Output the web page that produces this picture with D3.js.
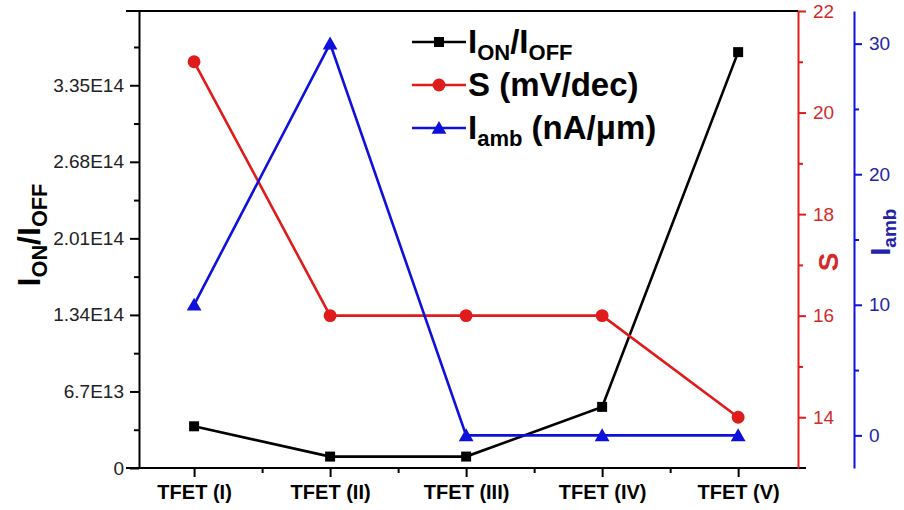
<!DOCTYPE html>
<html>
<head>
<meta charset="utf-8">
<script src="https://cdn.jsdelivr.net/npm/d3@7"></script>
<style>
  html, body { margin: 0; padding: 0; background: #fff; }
  svg { display: block; font-family: "Liberation Sans", Arial, sans-serif; }
</style>
</head>
<body>
<svg id="chart" width="904" height="510"></svg>
<script>
// Device variants along the x axis
const categories = ["TFET (I)", "TFET (II)", "TFET (III)", "TFET (IV)", "TFET (V)"];

// ION/IOFF ratio (left axis)
const ionIoff = [3.65e13, 1.0e13, 1.0e13, 5.35e13, 3.64e14];
// Subthreshold swing S in mV/dec (red axis)
const swing = [21, 16, 16, 16, 14];
// Ambipolar current in nA/um (blue axis)
const iamb = [10, 30, 0, 0, 0];

// Tick values and their printed labels
const ratioTicks = [0, 6.7e13, 1.34e14, 2.01e14, 2.68e14, 3.35e14];
const ratioTickLabels = ["0", "6.7E13", "1.34E14", "2.01E14", "2.68E14", "3.35E14"];
const ratioMinor = [3.35e13, 1.005e14, 1.675e14, 2.345e14, 3.015e14, 3.685e14];
const swingTicks = [14, 16, 18, 20, 22];
const swingMinor = [15, 17, 19, 21];
const iambTicks = [0, 10, 20, 30];
const iambMinor = [5, 15, 25];

const BLACK = "#000";
const RED = "#e01b1b";
const RED_TEXT = "#d42a2a";
const BLUE = "#1010dd";
const BLUE_TEXT = "#2323a8";
const FONT = '"Liberation Sans", Arial, sans-serif';
const TICK_FONT = 19;

const svg = d3.select("#chart");

const plotLeft = 139, plotRight = 798, plotTop = 11, plotBottom = 468;
const blueAxisX = 854;

const x = d3.scaleLinear().domain([0.595, 5.44]).range([plotLeft, plotRight]);
const yRatio = d3.scaleLinear().domain([0, 4.0e14]).range([plotBottom, plotTop]);
const yS = d3.scaleLinear().domain([13, 22]).range([plotBottom, plotTop]);
const yI = d3.scaleLinear().domain([-2.5, 32.5]).range([plotBottom, plotTop]);

function styleAxis(g, color, textColor, fontSize) {
  g.attr("font-size", fontSize).attr("font-family", FONT);
  g.selectAll(".domain").attr("stroke", color).attr("stroke-width", 2);
  g.selectAll(".tick line").attr("stroke", color).attr("stroke-width", 2);
  g.selectAll(".tick text").attr("fill", textColor)
    .attr("font-size", fontSize).attr("font-family", FONT);
}

function styleMinor(g, color) {
  g.select(".domain").remove();
  g.selectAll("text").remove();
  g.selectAll("line").attr("stroke", color).attr("stroke-width", 2);
}

// Top frame line
svg.append("line").attr("x1", 126).attr("x2", plotRight).attr("y1", plotTop).attr("y2", plotTop)
  .attr("stroke", BLACK).attr("stroke-width", 2);

// Bottom (category) axis
const xAxis = svg.append("g").attr("transform", `translate(0,${plotBottom})`)
  .call(d3.axisBottom(x)
    .tickValues(d3.range(1, categories.length + 1))
    .tickFormat(d => categories[d - 1])
    .tickSize(9).tickSizeOuter(0).tickPadding(8));
styleAxis(xAxis, BLACK, BLACK, 20);
xAxis.select(".domain").remove();
xAxis.selectAll(".tick text").attr("font-weight", "bold");
svg.append("line").attr("x1", 126).attr("x2", 806).attr("y1", plotBottom).attr("y2", plotBottom)
  .attr("stroke", BLACK).attr("stroke-width", 2);
svg.append("g").attr("transform", `translate(0,${plotBottom})`)
  .call(d3.axisBottom(x).tickValues(d3.range(1.5, categories.length, 1)).tickSize(5).tickSizeOuter(0).tickFormat(""))
  .call(g => styleMinor(g, BLACK));

// Left axis: ION/IOFF
const yLeft = svg.append("g").attr("transform", `translate(${plotLeft},0)`)
  .call(d3.axisLeft(yRatio).tickValues(ratioTicks)
    .tickFormat((d, i) => ratioTickLabels[i]).tickSize(9).tickSizeOuter(0).tickPadding(6));
styleAxis(yLeft, BLACK, "#222", TICK_FONT);
svg.append("g").attr("transform", `translate(${plotLeft},0)`)
  .call(d3.axisLeft(yRatio).tickValues(ratioMinor).tickSize(5).tickFormat(""))
  .call(g => styleMinor(g, BLACK));

// Red axis: S
const yRight = svg.append("g").attr("transform", `translate(${plotRight},0)`)
  .call(d3.axisRight(yS).tickValues(swingTicks).tickSize(8).tickSizeOuter(0).tickPadding(7));
styleAxis(yRight, RED, RED_TEXT, TICK_FONT);
svg.append("g").attr("transform", `translate(${plotRight},0)`)
  .call(d3.axisRight(yS).tickValues(swingMinor).tickSize(5).tickFormat(""))
  .call(g => styleMinor(g, RED));

// Blue axis: Iamb
const yBlue = svg.append("g").attr("transform", `translate(${blueAxisX},0)`)
  .call(d3.axisRight(yI).tickValues(iambTicks).tickSize(8).tickSizeOuter(0).tickPadding(7));
styleAxis(yBlue, BLUE, BLUE_TEXT, TICK_FONT);
svg.append("g").attr("transform", `translate(${blueAxisX},0)`)
  .call(d3.axisRight(yI).tickValues(iambMinor).tickSize(5).tickFormat(""))
  .call(g => styleMinor(g, BLUE));

// Axis titles with subscripts
function subTitle(parent, parts, size, color) {
  const t = parent.append("text").attr("fill", color).attr("font-weight", "bold")
    .attr("font-family", FONT).attr("text-anchor", "middle").attr("font-size", size);
  parts.forEach(p => {
    const s = t.append("tspan").text(p.text);
    if (p.sub) s.attr("font-size", size * 0.68).attr("dy", size * 0.22);
    else if (p.afterSub) s.attr("dy", -size * 0.22);
  });
  return t;
}

subTitle(svg.append("g").attr("transform", "translate(40,235) rotate(-90)"),
  [{ text: "I" }, { text: "ON", sub: true }, { text: "/I", afterSub: true }, { text: "OFF", sub: true }], 32, BLACK);

svg.append("text").attr("transform", "translate(838,262) rotate(-90)")
  .attr("text-anchor", "middle").attr("fill", RED_TEXT).attr("font-weight", "bold")
  .attr("font-family", FONT).attr("font-size", 28).text("S");

subTitle(svg.append("g").attr("transform", "translate(890,232) rotate(-90)"),
  [{ text: "I" }, { text: "amb", sub: true }], 28, BLUE_TEXT);

// Series
const series = [
  { values: ionIoff, y: yRatio, color: BLACK, marker: "square" },
  { values: swing, y: yS, color: RED, marker: "circle" },
  { values: iamb, y: yI, color: BLUE, marker: "triangle" }
];

const symbolFor = {
  square: d3.symbol(d3.symbolSquare, 100),
  circle: d3.symbol(d3.symbolCircle, 130),
  triangle: d3.symbol(d3.symbolTriangle, 95)
};

series.forEach(s => {
  const line = d3.line().x((d, i) => x(i + 1)).y(d => s.y(d));
  svg.append("path").datum(s.values).attr("d", line)
    .attr("fill", "none").attr("stroke", s.color).attr("stroke-width", 2.6)
    .attr("stroke-linejoin", "miter");
  svg.append("g").selectAll("path").data(s.values).join("path")
    .attr("transform", (d, i) => `translate(${x(i + 1)},${s.y(d) + (s.marker === "triangle" ? 1.5 : 0)})`)
    .attr("d", symbolFor[s.marker]())
    .attr("fill", s.color);
});

// Legend
const legendItems = [
  { parts: [{ text: "I" }, { text: "ON", sub: true }, { text: "/I", afterSub: true }, { text: "OFF", sub: true }], color: BLACK, marker: "square" },
  { parts: [{ text: "S (mV/dec)" }], color: RED, marker: "circle" },
  { parts: [{ text: "I" }, { text: "amb", sub: true }, { text: " (nA/\u03bcm)", afterSub: true }], color: BLUE, marker: "triangle" }
];
const legend = svg.append("g").attr("transform", "translate(412,42)");
legendItems.forEach((it, i) => {
  const row = legend.append("g").attr("transform", `translate(0,${i * 43})`);
  row.append("line").attr("x1", 0).attr("x2", 54).attr("y1", 0).attr("y2", 0)
    .attr("stroke", it.color).attr("stroke-width", 2.6);
  row.append("path").attr("transform", `translate(27,${it.marker === "triangle" ? 1.5 : 0})`)
    .attr("d", symbolFor[it.marker]()).attr("fill", it.color);
  const t = row.append("text").attr("x", 56).attr("y", 11).attr("font-weight", "bold")
    .attr("font-family", FONT).attr("fill", "#000").attr("font-size", 33);
  it.parts.forEach(p => {
    const s = t.append("tspan").text(p.text);
    if (p.sub) s.attr("font-size", 22).attr("dy", 7);
    else if (p.afterSub) s.attr("dy", -7);
  });
});
</script>
</body>
</html>
